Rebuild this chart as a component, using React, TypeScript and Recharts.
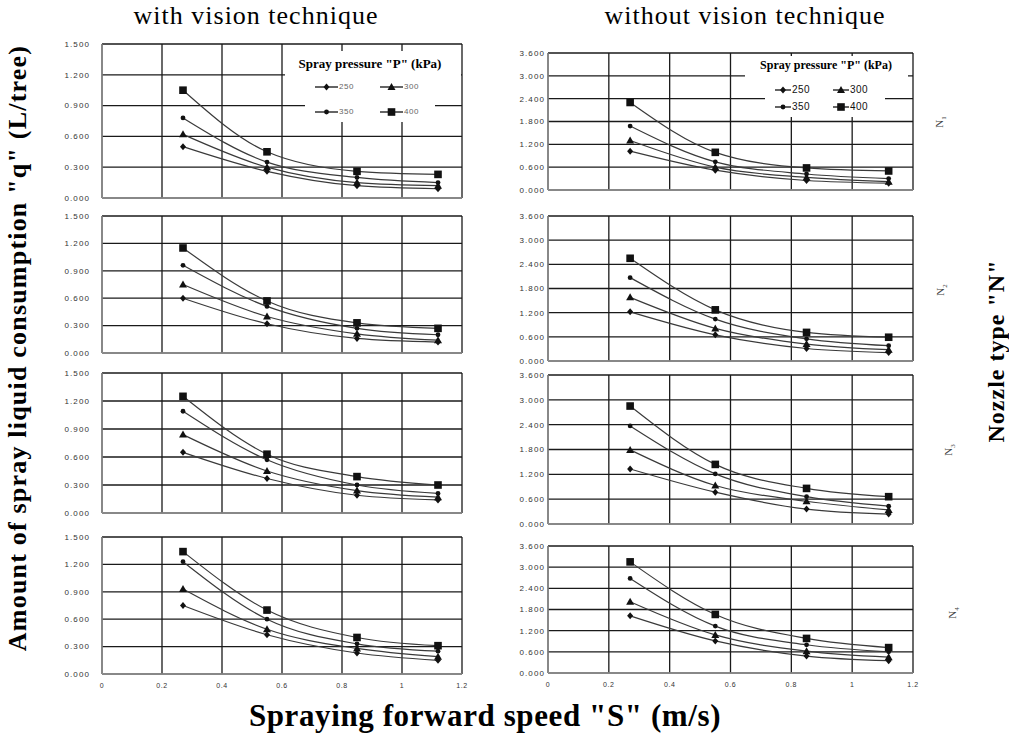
import { LineChart, Line, XAxis, YAxis, CartesianGrid } from "recharts";

// forward speed S (m/s) at which q was measured
const speeds = [0.27, 0.55, 0.85, 1.12];
const pressures = ["250", "300", "350", "400"];
const nozzles = ["1", "2", "3", "4"];

const speedTicks = [0, 0.2, 0.4, 0.6, 0.8, 1, 1.2];
const withTicks = [0, 0.3, 0.6, 0.9, 1.2, 1.5];
const withoutTicks = [0, 0.6, 1.2, 1.8, 2.4, 3.0, 3.6];

// q (L/tree); rows follow pressures: 250, 300, 350, 400 kPa
const withN1 = [
  [0.5, 0.26, 0.12, 0.09],
  [0.62, 0.3, 0.15, 0.12],
  [0.78, 0.35, 0.2, 0.15],
  [1.05, 0.45, 0.26, 0.23],
];
const withN2 = [
  [0.6, 0.32, 0.16, 0.12],
  [0.75, 0.4, 0.21, 0.14],
  [0.96, 0.51, 0.27, 0.2],
  [1.15, 0.57, 0.33, 0.27],
];
const withN3 = [
  [0.65, 0.37, 0.19, 0.14],
  [0.84, 0.45, 0.24, 0.17],
  [1.09, 0.57, 0.3, 0.21],
  [1.25, 0.63, 0.39, 0.3],
];
const withN4 = [
  [0.75, 0.43, 0.23, 0.15],
  [0.93, 0.49, 0.28, 0.19],
  [1.23, 0.6, 0.33, 0.25],
  [1.34, 0.7, 0.4, 0.31],
];

const withoutN1 = [
  [1.02, 0.52, 0.25, 0.18],
  [1.3, 0.6, 0.33, 0.22],
  [1.68, 0.74, 0.42, 0.3],
  [2.3, 0.99, 0.58, 0.5],
];
const withoutN2 = [
  [1.22, 0.65, 0.31, 0.21],
  [1.58, 0.81, 0.42, 0.28],
  [2.07, 1.04, 0.55, 0.38],
  [2.55, 1.27, 0.71, 0.59],
];
const withoutN3 = [
  [1.33, 0.77, 0.36, 0.24],
  [1.79, 0.93, 0.55, 0.34],
  [2.37, 1.21, 0.66, 0.43],
  [2.85, 1.44, 0.86, 0.66],
];
const withoutN4 = [
  [1.62, 0.91, 0.48, 0.35],
  [2.02, 1.08, 0.62, 0.45],
  [2.68, 1.33, 0.8, 0.6],
  [3.15, 1.66, 0.98, 0.72],
];

const withSet = [withN1, withN2, withN3, withN4];
const withoutSet = [withoutN1, withoutN2, withoutN3, withoutN4];

const shapes = ["diamond", "triangle", "circle", "square"];

const toRows = (series: number[][]) =>
  speeds.map((s, i) => {
    const row: Record<string, number> = { s };
    pressures.forEach((p, k) => (row["p" + p] = series[k][i]));
    return row;
  });

const Marker = ({ cx, cy, shape }: { cx: number; cy: number; shape: string }) => {
  if (cx == null || cy == null) return null;
  const f = "#111";
  if (shape === "diamond")
    return <polygon points={`${cx},${cy - 3.5} ${cx + 3},${cy} ${cx},${cy + 3.5} ${cx - 3},${cy}`} fill={f} />;
  if (shape === "triangle")
    return <polygon points={`${cx},${cy - 4} ${cx + 4},${cy + 3} ${cx - 4},${cy + 3}`} fill={f} />;
  if (shape === "circle") return <circle cx={cx} cy={cy} r={2.4} fill={f} />;
  return <rect x={cx - 3.8} y={cy - 3.8} width={7.6} height={7.6} fill={f} />;
};

const tickStyle = { fontSize: 8, fill: "#333", fontFamily: "Liberation Sans, Arial", letterSpacing: 1.1 };

type PanelProps = {
  series: number[][];
  x0: number;
  x1: number;
  y0: number;
  y1: number;
  yMax: number;
  yTicks: number[];
  showX: boolean;
  yAxisW: number;
  tickGap: number;
};

const Panel = ({ series, x0, x1, y0, y1, yMax, yTicks, showX, yAxisW, tickGap }: PanelProps) => {
  const top = 8;
  const right = 6;
  const xh = showX ? 22 : 8;
  const rows = toRows(series);
  return (
    <div style={{ position: "absolute", left: x0 - yAxisW, top: y0 - top }}>
      <LineChart
        width={x1 - x0 + yAxisW + right}
        height={y1 - y0 + top + xh}
        data={rows}
        margin={{ top, right, left: 0, bottom: 0 }}
      >
        <CartesianGrid stroke="#1a1a1a" strokeWidth={1.3} />
        <XAxis
          type="number"
          dataKey="s"
          domain={[0, 1.2]}
          ticks={speedTicks}
          interval={0}
          height={xh}
          tick={{ ...tickStyle, fontSize: 7, letterSpacing: 0.6 }}
          tickFormatter={(v: number) => (showX ? String(v) : "")}
          tickLine={false}
          tickSize={0}
          tickMargin={9}
          axisLine={{ stroke: "#9a9a9a", strokeWidth: 1.3 }}
        />
        <YAxis
          type="number"
          domain={[0, yMax]}
          ticks={yTicks}
          interval={0}
          width={yAxisW}
          tick={tickStyle}
          tickLine={false}
          tickSize={0}
          tickMargin={tickGap}
          tickFormatter={(v: number) => v.toFixed(3)}
          axisLine={{ stroke: "#9a9a9a", strokeWidth: 1.3 }}
        />
        {pressures.map((p, k) => (
          <Line
            key={p}
            type="monotone"
            dataKey={"p" + p}
            stroke="#3a3a3a"
            strokeWidth={1.2}
            isAnimationActive={false}
            dot={(d: any) => <Marker key={`${p}-${d.index}`} cx={d.cx} cy={d.cy} shape={shapes[k]} />}
            activeDot={false}
          />
        ))}
      </LineChart>
    </div>
  );
};

const LegendMark = ({ shape, seg }: { shape: string; seg: number }) => (
  <svg width={seg} height={10} style={{ display: "block" }}>
    <line x1={0} y1={5} x2={seg} y2={5} stroke="#111" strokeWidth={1.3} />
    <Marker cx={seg / 2} cy={5} shape={shape} />
  </svg>
);

type LegendProps = {
  title: { x: number; y: number; size: number };
  boxes: { left: number; top: number; width: number; height: number }[];
  rows: number[];
  cols: number[];
  seg: number;
  textSize: number;
  textColor: string;
};

const PressureLegend = ({ title, boxes, rows, cols, seg, textSize, textColor }: LegendProps) => (
  <>
    {boxes.map((b, i) => (
      <div key={i} style={{ position: "absolute", ...b, background: "#fff" }} />
    ))}
    <div
      style={{
        position: "absolute",
        left: title.x - 100,
        width: 200,
        top: title.y - title.size * 0.6,
        textAlign: "center",
        fontFamily: "Liberation Serif, Times New Roman, serif",
        fontWeight: 600,
        fontSize: title.size,
        lineHeight: "1.2",
        whiteSpace: "nowrap",
      }}
    >
      Spray pressure "P" (kPa)
    </div>
    {pressures.map((p, k) => (
      <div
        key={p}
        style={{
          position: "absolute",
          left: cols[k % 2],
          top: rows[Math.floor(k / 2)] - 5,
          display: "flex",
          alignItems: "center",
          height: 10,
          gap: 1,
        }}
      >
        <LegendMark shape={shapes[k]} seg={seg} />
        <span
          style={{
            fontFamily: "Liberation Sans, Arial",
            fontSize: textSize,
            color: textColor,
            letterSpacing: 0.5,
            lineHeight: "10px",
          }}
        >
          {p}
        </span>
      </div>
    ))}
  </>
);

const leftBoxes = [
  [44, 198],
  [216, 353],
  [373, 513],
  [537, 674],
];
const rightBoxes = [
  [53, 190],
  [216, 361],
  [375, 524],
  [546, 673],
];
const nozzleLabelPos = [
  [939, 122],
  [940, 290],
  [948, 450],
  [952, 613],
];

const serif = "Liberation Serif, Times New Roman, serif";

export default function App() {
  return (
    <div
      style={{
        position: "absolute",
        left: 0,
        top: 0,
        width: 1009,
        height: 739,
        background: "#fff",
        overflow: "hidden",
        fontFamily: serif,
      }}
    >
      <div
        style={{
          position: "absolute",
          left: 0,
          width: 512,
          top: 1,
          lineHeight: "30px",
          textAlign: "center",
          fontSize: 26,
          letterSpacing: 1,
        }}
      >
        with vision technique
      </div>
      <div
        style={{
          position: "absolute",
          left: 489,
          width: 512,
          top: 1,
          lineHeight: "30px",
          textAlign: "center",
          fontSize: 26,
          letterSpacing: 1,
        }}
      >
        without vision technique
      </div>

      {withSet.map((s, i) => (
        <Panel
          key={"w" + i}
          series={s}
          x0={102}
          x1={462}
          y0={leftBoxes[i][0]}
          y1={leftBoxes[i][1]}
          yMax={1.5}
          yTicks={withTicks}
          showX={i === 3}
          yAxisW={60}
          tickGap={12}
        />
      ))}
      {withoutSet.map((s, i) => (
        <Panel
          key={"wo" + i}
          series={s}
          x0={548}
          x1={913}
          y0={rightBoxes[i][0]}
          y1={rightBoxes[i][1]}
          yMax={3.6}
          yTicks={withoutTicks}
          showX={i === 3}
          yAxisW={50}
          tickGap={3}
        />
      ))}

      <PressureLegend
        title={{ x: 370, y: 64, size: 13 }}
        boxes={[
          { left: 285, top: 51, width: 176, height: 44 },
          { left: 305, top: 95, width: 130, height: 27 },
        ]}
        rows={[87, 112]}
        cols={[315, 380]}
        seg={23}
        textSize={8}
        textColor="#666"
      />
      <PressureLegend
        title={{ x: 826, y: 65, size: 12 }}
        boxes={[
          { left: 745, top: 56, width: 163, height: 30 },
          { left: 765, top: 86, width: 120, height: 31 },
        ]}
        rows={[90, 107]}
        cols={[775, 833]}
        seg={16}
        textSize={10}
        textColor="#111"
      />

      {nozzles.map((n, i) => (
        <div
          key={n}
          style={{
            position: "absolute",
            left: nozzleLabelPos[i][0] - 20,
            top: nozzleLabelPos[i][1] - 7,
            width: 40,
            height: 14,
            textAlign: "center",
            fontSize: 11,
            lineHeight: "14px",
            color: "#444",
            transform: "rotate(-90deg)",
          }}
        >
          N<sub style={{ fontSize: 7 }}>{n}</sub>
        </div>
      ))}

      <div
        style={{
          position: "absolute",
          left: 18 - 320,
          top: 348 - 15,
          width: 640,
          height: 30,
          lineHeight: "30px",
          textAlign: "center",
          fontWeight: "bold",
          fontSize: 26,
          letterSpacing: 1.2,
          whiteSpace: "nowrap",
          transform: "rotate(-90deg)",
        }}
      >
        Amount of spray liquid consumption "q" (L/tree)
      </div>
      <div
        style={{
          position: "absolute",
          left: 996 - 150,
          top: 351 - 14,
          width: 300,
          height: 28,
          lineHeight: "28px",
          textAlign: "center",
          fontWeight: "bold",
          fontSize: 24,
          letterSpacing: 1,
          whiteSpace: "nowrap",
          transform: "rotate(-90deg)",
        }}
      >
        Nozzle type "N"
      </div>
      <div
        style={{
          position: "absolute",
          left: 0,
          width: 970,
          top: 698,
          textAlign: "center",
          fontWeight: "bold",
          fontSize: 31,
          letterSpacing: 0.6,
          lineHeight: "36px",
          whiteSpace: "nowrap",
        }}
      >
        Spraying forward speed "S" (m/s)
      </div>
    </div>
  );
}
